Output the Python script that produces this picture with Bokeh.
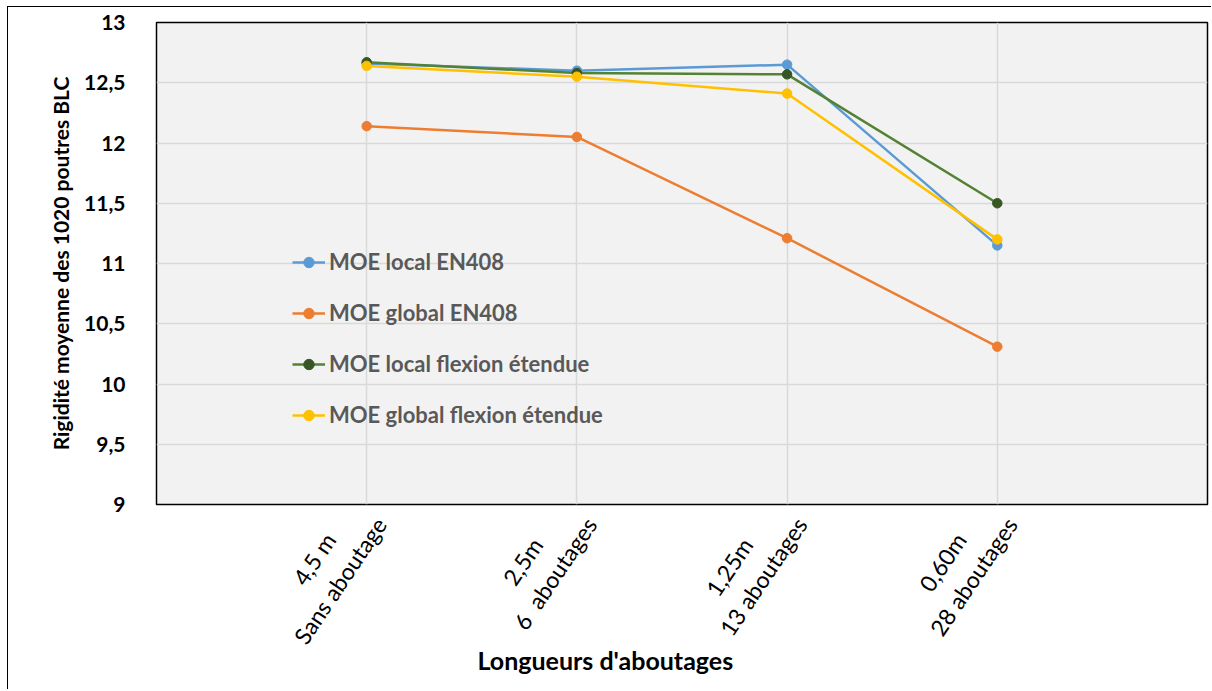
from bokeh.plotting import figure
from bokeh.models import Range1d, FixedTicker, Title
from bokeh.embed import file_html
from bokeh.resources import INLINE

# ---- data ----
NB = "\u00a0"
categories = ["4,5 m" + NB * 7 + "\nSans aboutage",
              "2,5m" + NB * 8 + "\n6" + NB + " aboutages",
              "1,25m" + NB * 8 + "\n13 aboutages",
              "0,60m" + NB * 7 + "\n28 aboutages"]
x_pos = [1, 2, 3, 4]
moe_local_en408 = [12.66, 12.60, 12.65, 11.15]
moe_global_en408 = [12.14, 12.05, 11.21, 10.31]
moe_local_flexion = [12.67, 12.58, 12.57, 11.50]
moe_global_flexion = [12.64, 12.55, 12.41, 11.20]
series_names = ["MOE local EN408", "MOE global EN408", "MOE local flexion étendue", "MOE global flexion étendue"]
y_ticks = [9, 9.5, 10, 10.5, 11, 11.5, 12, 12.5, 13]
y_tick_labels = ["9", "9,5", "10", "10,5", "11", "11,5", "12", "12,5", "13"]
y_title = "Rigidité moyenne des 1020 poutres BLC"
x_title = "Longueurs d'aboutages"

line_colors = ["#5B9BD5", "#ED7D31", "#548235", "#FFC000"]
marker_colors = ["#5B9BD5", "#ED7D31", "#375623", "#FFC000"]
series = [moe_local_en408, moe_global_en408, moe_local_flexion, moe_global_flexion]

p = figure(width=1204, height=683, x_range=Range1d(0, 5), y_range=Range1d(9, 13),
           output_backend="svg", toolbar_location=None,
           min_border_left=148, min_border_right=5, min_border_top=15, min_border_bottom=186)
p.styles = {"border-left": "1px solid black", "border-top": "1px solid black",
            "margin-left": "7px", "margin-top": "6px"}
p.background_fill_color = "#F2F2F2"
p.border_fill_color = "white"
p.outline_line_color = "black"
p.outline_line_width = 1.5

p.xgrid.ticker = FixedTicker(ticks=x_pos)
p.ygrid.ticker = FixedTicker(ticks=y_ticks)
p.grid.grid_line_color = "#D9D9D9"
p.grid.grid_line_width = 1.5

p.xaxis.ticker = FixedTicker(ticks=x_pos)
p.xaxis.major_label_overrides = {x: c for x, c in zip(x_pos, categories)}
p.xaxis.major_label_orientation = 0.98
p.xaxis.major_label_text_font = "Lato"
p.xaxis.major_label_text_font_size = "23px"
p.xaxis.major_label_text_color = "black"
p.xaxis.major_label_standoff = 0
p.xaxis.axis_line_color = None
p.xaxis.major_tick_line_color = None
p.xaxis.minor_tick_line_color = None

p.yaxis.ticker = FixedTicker(ticks=y_ticks)
p.yaxis.major_label_overrides = {t: l for t, l in zip(y_ticks, y_tick_labels)}
p.yaxis.major_label_text_font = "Lato"
p.yaxis.major_label_text_font_style = "bold"
p.yaxis.major_label_text_font_size = "21px"
p.yaxis.major_label_text_color = "black"
p.yaxis.major_label_standoff = 25
p.yaxis.axis_line_color = None
p.yaxis.major_tick_line_color = None
p.yaxis.minor_tick_line_color = None
p.yaxis.axis_label = y_title
p.yaxis.axis_label_text_font = "Lato"
p.yaxis.axis_label_text_font_style = "bold"
p.yaxis.axis_label_text_font_size = "21px"
p.yaxis.axis_label_text_color = "black"
p.yaxis.axis_label_standoff = 8

for name, vals, lc, mc in zip(series_names, series, line_colors, marker_colors):
    p.line(x_pos, vals, line_color=lc, line_width=2.5, legend_label=name)
    p.scatter(x_pos, vals, size=9.5, fill_color=mc, line_color=mc, legend_label=name)

lg = p.legend[0]
lg.location = (136, 76)
lg.background_fill_alpha = 0
lg.border_line_color = None
lg.label_text_font = "Lato"
lg.label_text_font_style = "bold"
lg.label_text_font_size = "22px"
lg.label_text_color = "#595959"
lg.glyph_width = 33
lg.glyph_height = 26
lg.label_height = 26
lg.spacing = 24
lg.padding = 0
lg.margin = 0
lg.label_standoff = 4

p.add_layout(Title(text=x_title, align="left", offset=321, vertical_align="top", standoff=-50,
                   text_font="Lato", text_font_style="bold", text_font_size="25px",
                   text_color="black"), "below")

open("out.html", "w").write(file_html(p, INLINE))
